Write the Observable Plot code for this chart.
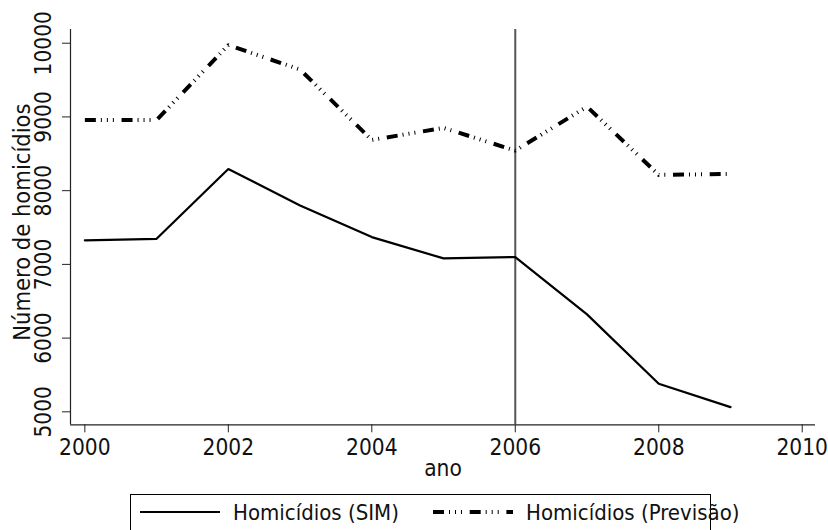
<!DOCTYPE html>
<html>
<head>
<meta charset="utf-8">
<script src="https://cdn.jsdelivr.net/npm/d3@7"></script>
<script src="https://cdn.jsdelivr.net/npm/@observablehq/plot@0.6"></script>
<style>
  html, body { margin: 0; padding: 0; background: #fff; }
  body { width: 828px; height: 530px; overflow: hidden; position: relative;
         font-family: "DejaVu Sans Condensed", "DejaVu Sans", sans-serif; font-stretch: condensed; }
  #chart svg { display: block; }
  #legend { position: absolute; left: 130px; top: 494px; width: 581px; height: 40px;
            border: 1px solid #000; box-sizing: border-box; background: #fff; }
  #legend .item { position: absolute; top: 0; height: 34px; display: flex; align-items: center;
                  font-size: 22px; color: #111; white-space: nowrap; }
  #legend svg { display: block; margin-right: 13px; }
</style>
</head>
<body>
<div id="chart"></div>
<div id="legend"></div>
<script>
const years = [2000, 2001, 2002, 2003, 2004, 2005, 2006, 2007, 2008, 2009];
const sim = [7326, 7347, 8294, 7800, 7370, 7081, 7099, 6322, 5380, 5064];
const previsao = [8958, 8958, 9975, 9643, 8688, 8851, 8543, 9140, 8213, 8227];
const xTicks = [2000, 2002, 2004, 2006, 2008, 2010];
const yTicks = [5000, 6000, 7000, 8000, 9000, 10000];
const seriesNames = ["Homicídios (SIM)", "Homicídios (Previsão)"];
const interventionYear = [2006];
const xTitle = "ano";
const yTitle = "Número de homicídios";

const simData = years.map((y, i) => ({ano: y, v: sim[i]}));
const prevData = years.map((y, i) => ({ano: y, v: previsao[i]}));

const FS = 22.5;
const dashPattern = "11,5,1,5,1,5,1,7.7";
const xDomain = [1999.8, 2010.185];
const yDomain = [4824, 10186];

const plot = Plot.plot({
  width: 828,
  height: 490,
  marginLeft: 70,
  marginRight: 13,
  marginTop: 29,
  marginBottom: 65.7,
  style: {fontFamily: '"DejaVu Sans Condensed", "DejaVu Sans", sans-serif', fontSize: FS + "px", color: "#111", background: "#fff"},
  x: {domain: xDomain},
  y: {domain: yDomain},
  marks: [
    Plot.axisX({ticks: xTicks, tickSize: 8, tickPadding: 6, tickFormat: d => String(d), label: null, fontSize: FS, stroke: "#222"}),
    Plot.axisY({ticks: yTicks, tickSize: 8, tickFormat: () => "", label: null, stroke: "#222"}),
    Plot.text(yTicks, {y: d => d, text: d => String(d), frameAnchor: "left", textAnchor: "middle", dx: -20, rotate: -90, lineAnchor: "bottom", fontSize: FS, fill: "#111"}),
    Plot.text([yTitle], {frameAnchor: "left", textAnchor: "middle", dy: -5, dx: -41, rotate: -90, lineAnchor: "bottom", fontSize: 23.5, fill: "#111"}),
    Plot.text([xTitle], {frameAnchor: "bottom", textAnchor: "middle", dy: 51, lineAnchor: "bottom", fontSize: FS, fill: "#111"}),
    Plot.ruleX([xDomain[0]], {stroke: "#222", strokeWidth: 1.2}),
    Plot.ruleY([yDomain[0]], {stroke: "#222", strokeWidth: 1.2}),
    Plot.ruleX(interventionYear, {stroke: "#555", strokeWidth: 2}),
    Plot.line(simData, {x: "ano", y: "v", stroke: "#000", strokeWidth: 2.2, strokeLinejoin: "miter"}),
    Plot.line(prevData, {x: "ano", y: "v", stroke: "#000", strokeWidth: 4, strokeDasharray: dashPattern, strokeLinecap: "butt", strokeLinejoin: "miter"})
  ]
});
document.getElementById("chart").appendChild(plot);

// legend
const legend = document.getElementById("legend");
const items = [
  {name: seriesNames[0], left: 9, width: 80, sw: 2.2, dash: null},
  {name: seriesNames[1], left: 302, width: 80, sw: 4, dash: dashPattern}
];
for (const it of items) {
  const div = document.createElement("div");
  div.className = "item";
  div.style.left = it.left + "px";
  const svg = d3.create("svg").attr("width", it.width).attr("height", 10);
  svg.append("line").attr("x1", 0).attr("x2", it.width).attr("y1", 5).attr("y2", 5)
    .attr("stroke", "#000").attr("stroke-width", it.sw)
    .attr("stroke-dasharray", it.dash).attr("stroke-linecap", "butt");
  div.appendChild(svg.node());
  const span = document.createElement("span");
  span.textContent = it.name;
  div.appendChild(span);
  legend.appendChild(div);
}
</script>
</body>
</html>
